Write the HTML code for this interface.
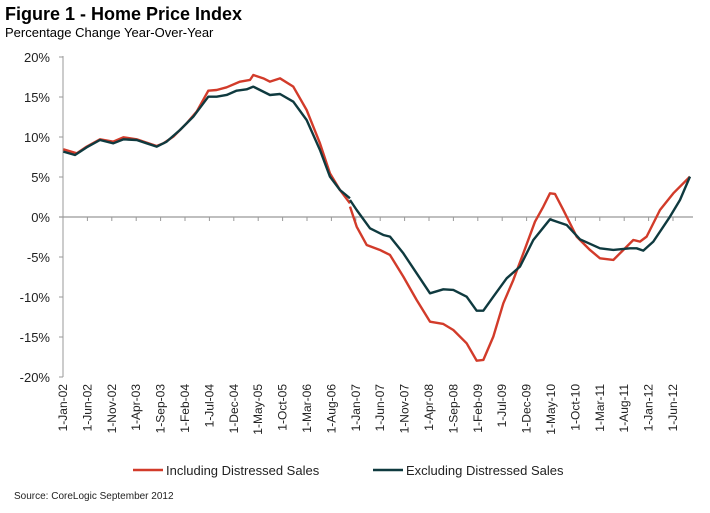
<!DOCTYPE html>
<html><head><style>
body{margin:0;background:#fff;width:710px;height:508px;overflow:hidden;font-family:"Liberation Sans",Arial,sans-serif}
</style></head><body>
<svg width="710" height="508" xmlns="http://www.w3.org/2000/svg" font-family="Liberation Sans, Arial, sans-serif">
<text x="5" y="20" font-size="18" font-weight="bold" fill="#000">Figure 1 - Home Price Index</text>
<text x="5" y="37" font-size="13" fill="#000">Percentage Change Year-Over-Year</text>
<g font-size="13" fill="#222" text-anchor="end">
<text x="50" y="62">20%</text><text x="50" y="102">15%</text><text x="50" y="142">10%</text>
<text x="50" y="182">5%</text><text x="50" y="222">0%</text><text x="50" y="262">-5%</text>
<text x="50" y="302">-10%</text><text x="50" y="342">-15%</text><text x="50" y="382">-20%</text>
</g>
<line x1="63" y1="56" x2="63" y2="377" stroke="#999" stroke-width="1"/>
<g stroke="#999"><line x1="59" y1="57" x2="63" y2="57"/><line x1="59" y1="97" x2="63" y2="97"/><line x1="59" y1="137" x2="63" y2="137"/><line x1="59" y1="177" x2="63" y2="177"/><line x1="59" y1="257" x2="63" y2="257"/><line x1="59" y1="297" x2="63" y2="297"/><line x1="59" y1="337" x2="63" y2="337"/><line x1="59" y1="377" x2="63" y2="377"/></g>
<line x1="59" y1="217" x2="693" y2="217" stroke="#999" stroke-width="1.2"/>
<g id="ticks" stroke="#999"></g>
<g id="labels" font-size="12" fill="#222"></g>
<g transform="translate(0,40) scale(0.3333)" fill="none" stroke-linejoin="round">
<polyline vector-effect="non-scaling-stroke" stroke="#d23b2a" stroke-width="2.4" points="190,328 230,340 260,320 300,298 340,305 370,292 410,298 440,308 470,318 490,310 520,290 560,250 590,215 625,152 650,150 680,142 720,125 750,120 760,105 790,115 810,125 840,115 880,140 920,210 960,310 990,400 1020,450 1050,490"/>
<polyline vector-effect="non-scaling-stroke" stroke="#0f3a3f" stroke-width="2.4" points="190,335 225,345 260,322 300,300 340,310 370,298 410,300 440,310 470,320 500,305 540,270 580,230 625,170 650,170 680,165 710,152 740,148 760,140 780,150 810,165 840,162 880,185 920,240 960,330 990,410 1020,450 1050,475"/>
</g>
<g transform="translate(350,40) scale(0.3333)" fill="none" stroke-linejoin="round">
<polyline vector-effect="non-scaling-stroke" stroke="#d23b2a" stroke-width="2.4" points="0,500 20,560 50,615 90,630 120,645 160,710 200,780 240,845 280,852 310,870 350,910 380,962 400,960 430,890 460,790 490,720 520,640 555,545 580,500 600,460 615,462 640,510 680,590 720,630 750,655 790,660 820,630 850,600 870,605 890,590 930,510 970,460 1020,410"/>
<polyline vector-effect="non-scaling-stroke" stroke="#0f3a3f" stroke-width="2.4" points="0,480 20,510 60,565 100,585 120,590 160,640 200,700 240,760 280,748 310,750 350,770 380,812 400,812 430,770 470,715 510,680 550,600 600,538 620,545 650,555 690,598 750,625 790,630 840,625 860,625 880,632 910,605 960,530 990,480 1020,410"/>
</g>
<line x1="133" y1="470" x2="163" y2="470" stroke="#d23b2a" stroke-width="2.5"/>
<text x="166" y="475" font-size="13" fill="#222">Including Distressed Sales</text>
<line x1="373" y1="470" x2="403" y2="470" stroke="#0f3a3f" stroke-width="2.5"/>
<text x="406" y="475" font-size="13" fill="#222">Excluding Distressed Sales</text>
<text x="14" y="499" font-size="10" fill="#222">Source:  CoreLogic  September 2012</text>
<script>
var m=["Jan","Jun","Nov","Apr","Sep","Feb","Jul","Dec","May","Oct","Mar","Aug"];
var t=document.getElementById("ticks"),l=document.getElementById("labels");
var ns="http://www.w3.org/2000/svg";
for(var i=0;i<26;i++){
 var mo=i*5,x=63+mo*4.88,yr=2+Math.floor(mo/12);
 var ln=document.createElementNS(ns,"line");ln.setAttribute("x1",x);ln.setAttribute("x2",x);ln.setAttribute("y1",217);ln.setAttribute("y2",221);t.appendChild(ln);
 var tx=document.createElementNS(ns,"text");tx.setAttribute("text-anchor","end");
 tx.setAttribute("transform","translate("+(x+4)+",384) rotate(-90)");
 tx.textContent="1-"+m[i%12]+"-"+(yr<10?"0"+yr:yr);l.appendChild(tx);
}
</script>
</svg>
</body></html>
